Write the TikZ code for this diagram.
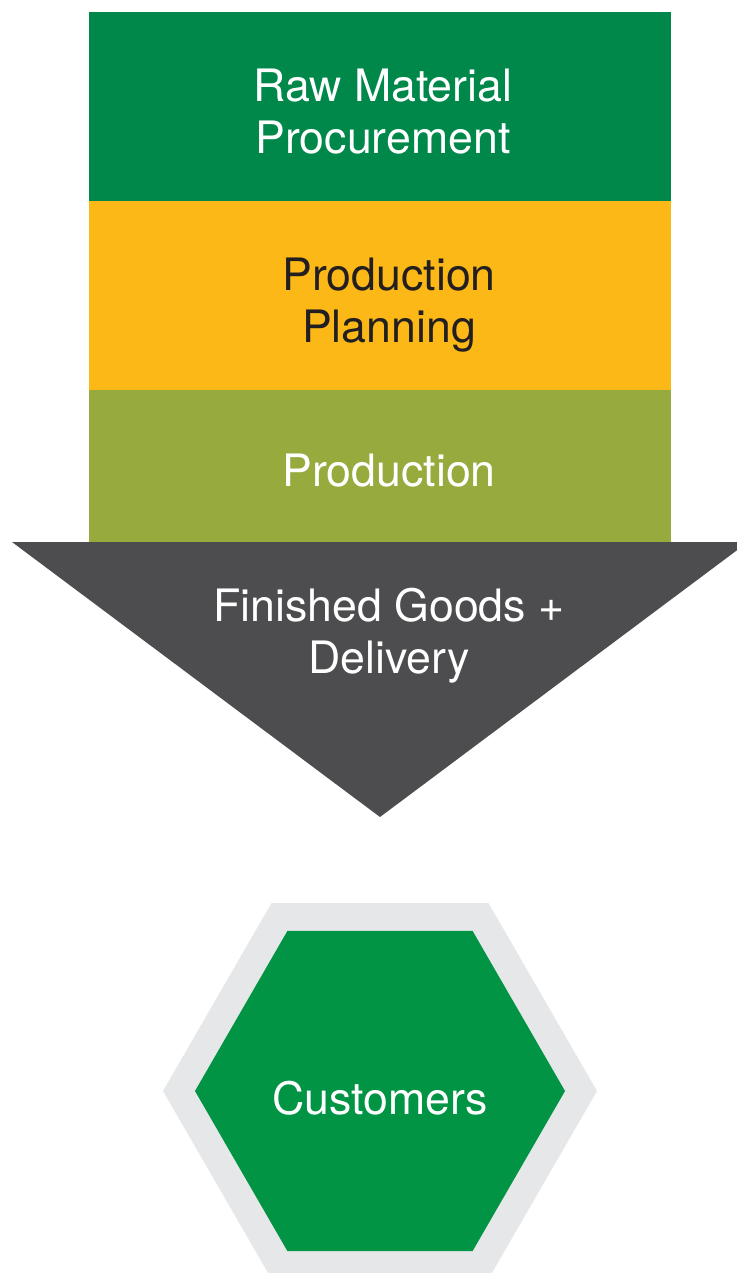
\documentclass[tikz,border=0pt]{standalone}
\usepackage{fontspec}
\setmainfont{TeX Gyre Heros}
\usetikzlibrary{shapes.geometric}

\definecolor{rawgreen}{HTML}{00884A}
\definecolor{planyellow}{HTML}{FBB817}
\definecolor{prodolive}{HTML}{97AA3D}
\definecolor{goodsgray}{HTML}{4D4D4F}
\definecolor{rimgray}{HTML}{E6E7E8}
\definecolor{custgreen}{HTML}{009444}
\definecolor{inkdark}{HTML}{231F20}

\begin{document}
\begin{tikzpicture}[x=0.75pt,y=-0.75pt,
  stage/.style={rectangle, inner sep=0pt, outer sep=0pt, minimum width=436.5pt, align=center, text=white},
  hexa/.style={regular polygon, regular polygon sides=6, inner sep=0pt, outer sep=0pt, text=white}]
\fontsize{33.5}{39}\selectfont
\useasboundingbox (0,0) rectangle (737,1273);
\clip (0,0) rectangle (737,1273);

% stages
\node[stage, fill=rawgreen, minimum height=141.75pt] (raw) at (380,106.5) {};
\node[stage, fill=planyellow, minimum height=141.75pt] (plan) at (380,295.5) {};
\node[stage, fill=prodolive, minimum height=114pt] (prod) at (380,466) {};
\node[align=center, text=white] (rawtext) at (383,112) {Raw Material\\Procurement};
\node[align=center, text=inkdark] (plantext) at (389,305) {Production\\Planning};
\node[text=white] (prodtext) at (389,471) {Production};

% funnel
\fill[goodsgray] (12,542) -- (748,542) -- (380,817) -- cycle;
\node[align=center, text=white] (goods) at (389,636) {Finished Goods +\\Delivery};

% customers
\node[hexa, fill=rimgray, minimum size=325.5pt] (rim) at (380,1091) {};
\node[hexa, fill=custgreen, minimum size=277.5pt] (cust) at (380,1091) {};
\node[text=white] (custtext) at (380,1098) {Customers};
\end{tikzpicture}
\end{document}
